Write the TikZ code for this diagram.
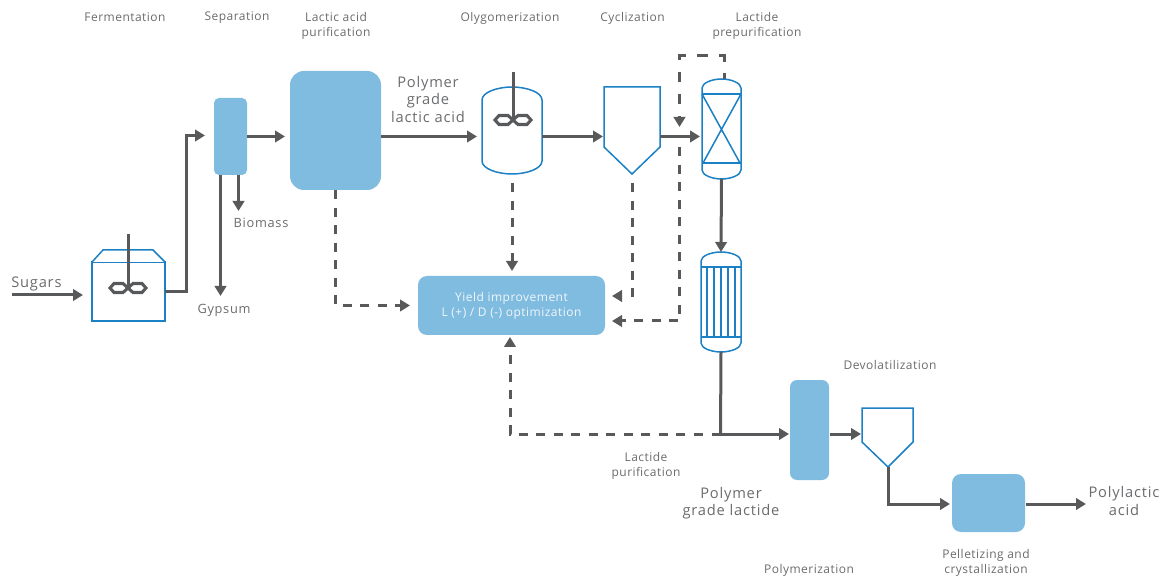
\documentclass[tikz,border=0pt]{standalone}
\usepackage{fontspec}
\setmainfont{Open Sans}
\newfontfamily\smallface[LetterSpace=4]{Open Sans}
\newfontfamily\bigface[LetterSpace=5.5]{Open Sans}
\usetikzlibrary{arrows.meta,calc}
\definecolor{flowc}{HTML}{58595B}
\definecolor{linec}{HTML}{1B80C4}
\definecolor{fillc}{HTML}{80BBE0}
\definecolor{textc}{HTML}{6A6B6D}
\tikzset{
  x=0.75pt,y=-0.75pt,
  flow/.style={draw=flowc,line width=2.25pt,-{Triangle[length=7.5pt,width=8.6pt]}},
  flowplain/.style={draw=flowc,line width=2.25pt},
  dashflow/.style={flow,dash pattern=on 6.75pt off 6.4pt},
  dashsparse/.style={flow,dash pattern=on 7.9pt off 8.6pt,dash phase=3.4pt},
  vessel/.style={draw=linec,line width=1.125pt,fill=white},
  vesselheavy/.style={draw=linec,line width=1.8pt},
  shaft/.style={draw=flowc,line width=2.25pt},
  blade/.style={draw=flowc,line width=2.3pt},
  anchorbox/.style={inner sep=0pt,outer sep=0pt,minimum width=#1},
  bluebox/.style={fill=fillc,inner sep=0pt,outer sep=0pt},
  small/.style={text=textc,font=\smallface\fontsize{9}{11.2}\selectfont,align=center,inner sep=0pt},
  big/.style={text=textc,font=\bigface\fontsize{11}{13.2}\selectfont,align=center,inner sep=0pt},
  mid/.style={text=textc,font=\bigface\fontsize{9.6}{12}\selectfont,align=center,inner sep=0pt},
}
\newcommand{\impeller}[2]{% centre x, y
  \draw[blade] (#1-18,#2) -- (#1-14,#2-4.5) -- (#1-5,#2-4.5) -- (#1,#2) -- (#1-5,#2+4.5) -- (#1-14,#2+4.5) -- cycle;
  \draw[blade] (#1+18,#2) -- (#1+14,#2-4.5) -- (#1+5,#2-4.5) -- (#1,#2) -- (#1+5,#2+4.5) -- (#1+14,#2+4.5) -- cycle;
}
\begin{document}
\begin{tikzpicture}
\useasboundingbox (0,0) rectangle (1164,577);

% blue boxes
\node[bluebox,rounded corners=3.75pt,minimum width=24.75pt,minimum height=57.75pt] (sep) at (230.5,136.5) {};
\node[bluebox,rounded corners=10.5pt,minimum width=68.25pt,minimum height=89.25pt] (lap) at (335.5,130.5) {};
\node[bluebox,rounded corners=6.75pt,minimum width=140.25pt,minimum height=44.25pt,text=white!88!fillc,font=\smallface\fontsize{9}{11.2}\selectfont,align=center] (yield) at (511.5,305.5) {Yield improvement\\L (+) / D (-) optimization};
\node[bluebox,rounded corners=5.25pt,minimum width=29.25pt,minimum height=75pt] (poly) at (809.5,430) {};
\node[bluebox,rounded corners=6.75pt,minimum width=54.75pt,minimum height=43.5pt] (pel) at (988.5,503) {};

% equipment reference nodes
\node[anchorbox=54.75pt,minimum height=44.25pt] (fer) at (128.5,291.5) {};
\node[anchorbox=45pt,minimum height=65.25pt] (oly) at (512,130.5) {};
\node[anchorbox=42pt,minimum height=65.25pt] (cyc) at (632,130.5) {};
\node[anchorbox=29.25pt,minimum height=75pt] (col) at (721.5,129) {};
\node[anchorbox=30pt,minimum height=75pt] (con) at (721,302) {};
\node[anchorbox=38.25pt,minimum height=44.25pt] (dev) at (887.5,437.5) {};

% free coordinates
\coordinate (sugstart) at (12,295);
\coordinate (sugend) at (83,295);
\coordinate (ferout) at (165,292);
\coordinate (fercorner) at (186,292);
\coordinate (sepin) at (205,135.5);
\coordinate (sepout) at (247,136.5);
\coordinate (lapin) at (285,136.5);
\coordinate (biostart) at (238.5,175);
\coordinate (bioend) at (238.5,211);
\coordinate (gypstart) at (220.5,175);
\coordinate (gypend) at (220.5,296);
\coordinate (lapout) at (381,136.5);
\coordinate (olyin) at (477,136.5);
\coordinate (olyout) at (542,136.5);
\coordinate (cycin) at (603,136.5);
\coordinate (cycout) at (660,136.5);
\coordinate (colin) at (700,136.5);
\coordinate (junction) at (720.5,434);
\coordinate (polyin) at (789,434);
\coordinate (polyout) at (830,434);
\coordinate (devin) at (861,434);
\coordinate (devtip) at (888,467);
\coordinate (pelin) at (950,504);
\coordinate (pelout) at (1026,504);
\coordinate (finalend) at (1086,504);
\coordinate (lapdash) at (335.5,190);
\coordinate (lapcorner) at (335.5,305.5);
\coordinate (yieldL) at (410,305.5);
\coordinate (olydash) at (512,183);
\coordinate (yieldT) at (512,271);
\coordinate (cycdash) at (632,183);
\coordinate (cyccorner) at (632,296);
\coordinate (yieldR1) at (612,296);
\coordinate (recstart) at (724,79);
\coordinate (rectop) at (724,56);
\coordinate (recleft) at (679.5,56);
\coordinate (recarrow) at (679.5,127);
\coordinate (recres) at (679.5,147);
\coordinate (reccorner) at (679.5,321);
\coordinate (yieldR2) at (612,321);
\coordinate (bottomcorner) at (510,434);
\coordinate (yieldB) at (510,337);

% fermenter
\draw[vessel] (92,262) rectangle (165,321);
\draw[vessel] (92,262) -- (103,250) -- (153,250) -- (165,262);
\draw[shaft] (128,234) -- (128,288);
\impeller{128}{288}

% oligomerisation vessel
\draw[vessel] (482,100) .. controls (482,92) and (498,87) .. (512,87) .. controls (526,87) and (542,92) .. (542,100) -- (542,161) .. controls (542,169) and (526,174) .. (512,174) .. controls (498,174) and (482,169) .. (482,161) -- cycle;
\draw[shaft] (513,72) -- (513,120);
\impeller{513}{120}

% cyclisation
\draw[vessel] (604,87) -- (660,87) -- (660,147) -- (632,174) -- (604,147) -- cycle;

% prepurification column
\draw[vessel] (702,88) .. controls (702,83) and (712,79) .. (721.5,79) .. controls (731,79) and (741,83) .. (741,88) -- (741,170) .. controls (741,175) and (731,179) .. (721.5,179) .. controls (712,179) and (702,175) .. (702,170) -- cycle;
\draw[vessel] (702,94) -- (741,94);
\draw[vesselheavy] (702,163) -- (741,163);
\draw[vessel] (702,94) -- (740,163) (741,94) -- (703,163);

% condenser
\draw[vessel] (701,261) .. controls (701,256) and (711,252) .. (721,252) .. controls (731,252) and (741,256) .. (741,261) -- (741,343) .. controls (741,348) and (731,352) .. (721,352) .. controls (711,352) and (701,348) .. (701,343) -- cycle;
\draw[vessel] (701,267) -- (741,267);
\draw[vesselheavy] (701,337) -- (741,337);
\foreach \tx in {707,714,721,728,735} \draw[vessel] (\tx,267) -- (\tx,337);

% devolatilisation
\draw[vessel] (862,408) -- (913,408) -- (913,442) -- (888,467) -- (862,442) -- cycle;

% connectors
\draw[flow] (sugstart) -- (sugend);
\draw[flow] (ferout) -- (fercorner) |- (sepin);
\draw[flow] (sepout) -- (lapin);
\draw[flow] (biostart) -- (bioend);
\draw[flow] (gypstart) -- (gypend);
\draw[flow] (lapout) -- (olyin);
\draw[flow] (olyout) -- (cycin);
\draw[flow] (cycout) -- (colin);
\draw[flow] (col.south) -- (con.north);
\draw[flowplain] (con.south) -- (junction);
\draw[flow] (junction) -- (polyin);
\draw[flow] (polyout) -- (devin);
\draw[flow] (devtip) |- (pelin);
\draw[flow] (pelout) -- (finalend);
\draw[dashflow] (lapdash) -- (lapcorner) -- (yieldL);
\draw[dashflow] (olydash) -- (yieldT);
\draw[dashflow] (cycdash) -- (cyccorner) -- (yieldR1);
\draw[dashsparse] (recstart) -- (rectop) -- (recleft) -- (recarrow);
\draw[dashflow] (recres) -- (reccorner) -- (yieldR2);
\draw[dashflow] (junction) -- (bottomcorner) -- (yieldB);

% labels
\node[small] (t1) at (125,17) {Fermentation};
\node[small] (t2) at (237,18) {Separation};
\node[small] (t3) at (336,26) {Lactic acid\\purification};
\node[small] (t4) at (510,18) {Olygomerization};
\node[small] (t5) at (632.5,18) {Cyclization};
\node[small] (t6) at (757,26) {Lactide\\prepurification};
\node[small] (t7) at (890,365) {Devolatilization};
\node[small] (t8) at (646,465.5) {Lactide\\purification};
\node[small] (t9) at (809,570) {Polymerization};
\node[small] (t10) at (986,563) {Pelletizing and\\crystallization};
\node[big,anchor=west] (l1) at (11,284) {Sugars};
\node[mid] (l2) at (261,222.5) {Biomass};
\node[mid] (l3) at (224,310) {Gypsum};
\node[big] (l4) at (428,99.5) {Polymer\\grade\\lactic acid};
\node[big] (l5) at (731,503) {Polymer\\grade lactide};
\node[big] (l6) at (1124,501) {Polylactic\\acid};
\end{tikzpicture}
\end{document}
